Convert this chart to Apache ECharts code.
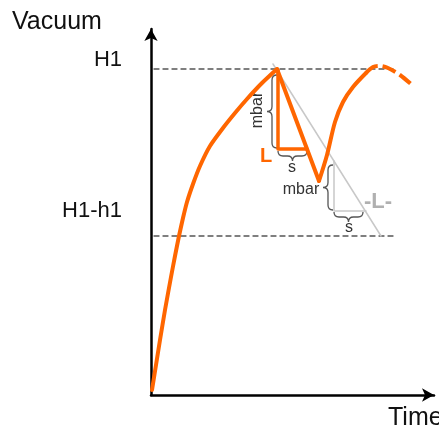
<!DOCTYPE html>
<html>
<head>
<meta charset="utf-8">
<script src="https://cdn.jsdelivr.net/npm/echarts@6/dist/echarts.min.js"></script>
<style>
html, body { margin: 0; padding: 0; background: #fff; }
#chart { width: 439px; height: 433px; }
</style>
</head>
<body>
<div id="chart"></div>
<script>
// 曲线数据（时间, 真空度）
const curveRise = [[1, 5], [5, 30], [9, 55], [14, 85], [20, 118], [24, 139], [28, 159], [32, 177], [36, 193], [42, 211], [49, 229], [59, 249], [72, 267], [84, 282], [96, 296], [111, 312], [126, 326]];
const curveDrop = [[126, 326], [168, 214]];
const curveRecover = [[168, 214], [176, 240], [184, 273], [192, 293], [202, 308], [215, 322]];
const curveForecast = [[215, 322], [222, 328], [229, 329], [237, 327], [249, 320], [261, 310]];

// 水平参考线 H1 / H1-h1
const levelValues = [326, 159];
const levelStart = -6;
const levelEnd = 244;

// 斜率辅助线和三角形
const slopeLine = [[122, 331], [230, 159]];
const orangeTriangle = [[127, 325], [127, 246], [156, 246]];
const grayTriangle = [[183, 234], [183, 184], [215, 184]];

// 大括号: x1, y1, x2, y2
const braces = [[121, 320, 121, 247], [127, 239, 156, 239], [177, 230, 177, 185], [183, 178, 212, 178]];

// 文字标注
const noteTexts = ['H1', 'H1-h1', 'mbar', 's', 'L', 'mbar', 's', '-L-'];
const noteX = [-29, -29, 107, 141, 115, 150, 198, 227];
const noteY = [335, 184, 285, 227, 239, 205, 167, 193];

const ORANGE = '#ff6600';
const FONT = 'Liberation Sans, Arial, sans-serif';

var myChart = echarts.init(document.getElementById('chart'));

function lineSeries(data, color, width, type) {
    return {
        type: 'line',
        data: data,
        symbol: 'none',
        clip: false,
        silent: true,
        animation: false,
        lineStyle: { color: color, width: width, type: type || 'solid', cap: 'round', join: 'round' }
    };
}

function renderBrace(params, api) {
    var p1 = api.coord([api.value(0), api.value(1)]);
    var p2 = api.coord([api.value(2), api.value(3)]);
    var dx = p2[0] - p1[0], dy = p2[1] - p1[1];
    var len = Math.sqrt(dx * dx + dy * dy);
    var ux = dx / len, uy = dy / len;
    var nx = -uy, ny = ux;
    var d = 5, m = len / 2;
    function P(t, s) {
        return (p1[0] + ux * t + nx * s).toFixed(1) + ' ' + (p1[1] + uy * t + ny * s).toFixed(1);
    }
    var path = 'M ' + P(0, -d) + ' Q ' + P(0, 0) + ' ' + P(d, 0) +
        ' L ' + P(m - d, 0) + ' Q ' + P(m, 0) + ' ' + P(m, d) +
        ' Q ' + P(m, 0) + ' ' + P(m + d, 0) +
        ' L ' + P(len - d, 0) + ' Q ' + P(len, 0) + ' ' + P(len, -d);
    return {
        type: 'path',
        shape: { pathData: path },
        style: { fill: null, stroke: '#555', lineWidth: 1.3 }
    };
}

// 每条标注的样式
var noteStyle = [
    { size: 22, color: '#111', align: 'right' },
    { size: 22, color: '#111', align: 'right' },
    { size: 16, color: '#333', align: 'center', rotate: Math.PI / 2 },
    { size: 16, color: '#333', align: 'center' },
    { size: 20, color: ORANGE, align: 'center', weight: 'bold' },
    { size: 16, color: '#333', align: 'center' },
    { size: 16, color: '#333', align: 'center' },
    { size: 22, color: '#b0b0b0', align: 'center', weight: 'bold' }
];

function renderNote(params, api) {
    var i = api.value(2);
    var st = noteStyle[i];
    var p = api.coord([api.value(0), api.value(1)]);
    return {
        type: 'text',
        x: p[0],
        y: p[1],
        rotation: st.rotate || 0,
        style: {
            text: noteTexts[i],
            fill: st.color,
            font: (st.weight || 'normal') + ' ' + st.size + 'px ' + FONT,
            align: st.align,
            verticalAlign: 'middle'
        }
    };
}

var series = [];
levelValues.forEach(function (v) {
    series.push(lineSeries([[levelStart, v], [levelEnd, v]], '#555', 1.3, [5, 4]));
});
series.push(lineSeries(slopeLine, '#c8c8c8', 1.5));
series.push(lineSeries(grayTriangle, '#c8c8c8', 1.5));
series.push(lineSeries(orangeTriangle, ORANGE, 3.5));
series.push(Object.assign(lineSeries(curveRise, ORANGE, 4), { smooth: 0.2 }));
series.push(lineSeries(curveDrop, ORANGE, 4));
series.push(Object.assign(lineSeries(curveRecover, ORANGE, 4), { smooth: 0.3 }));
var fc = lineSeries(curveForecast, ORANGE, 4, [14, 5]);
fc.smooth = 0.3;
fc.lineStyle.cap = 'butt';
series.push(fc);
series.push({
    type: 'custom',
    renderItem: renderBrace,
    data: braces,
    clip: false,
    silent: true,
    animation: false
});
series.push({
    type: 'custom',
    renderItem: renderNote,
    data: noteTexts.map(function (t, i) { return [noteX[i], noteY[i], i]; }),
    clip: false,
    silent: true,
    animation: false
});

var axisCommon = {
    type: 'value',
    min: 0,
    axisLine: {
        show: true,
        onZero: false,
        symbol: ['none', 'arrow'],
        symbolSize: [10, 12],
        lineStyle: { color: '#000', width: 2.5 }
    },
    axisTick: { show: false },
    axisLabel: { show: false },
    splitLine: { show: false }
};

var option = {
    backgroundColor: '#fff',
    animation: false,
    grid: { left: 151, right: 5, top: 29, bottom: 38 },
    xAxis: Object.assign({}, axisCommon, { max: 283 }),
    yAxis: Object.assign({}, axisCommon, { max: 366 }),
    graphic: [
        { type: 'text', left: 12, top: 10, style: { text: 'Vacuum', font: '25px ' + FONT, fill: '#111' } },
        { type: 'text', left: 388, top: 406, style: { text: 'Time', font: '25px ' + FONT, fill: '#111' } }
    ],
    series: series
};

myChart.setOption(option);
</script>
</body>
</html>
